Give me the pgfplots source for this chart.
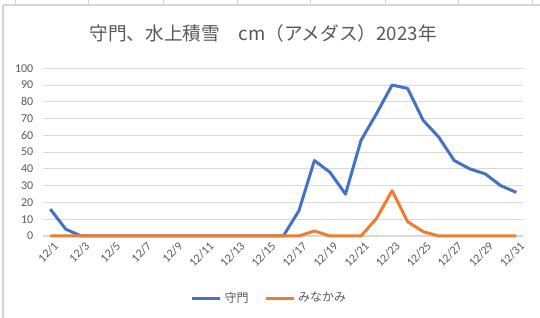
\documentclass[border=0pt]{standalone}
\usepackage{fontspec}
\setmainfont{Carlito}
\newfontfamily\jp{Noto Sans CJK JP}
\usepackage{pgfplots}
\pgfplotsset{compat=1.18}
\definecolor{exblue}{HTML}{4472C4}
\definecolor{exorange}{HTML}{ED7D31}
\definecolor{txtgray}{HTML}{595959}
\definecolor{gridgray}{HTML}{D9D9D9}
\definecolor{cellgray}{HTML}{D4D4D4}
\begin{document}
\begin{tikzpicture}[x=0.75pt,y=0.75pt]
\fill[white] (0,0) rectangle (540,318);
\path[use as bounding box] (0,0) rectangle (540,318);
% spreadsheet cell lines above chart
\foreach \xx in {15,88,163,237,310,385,458,532}{\draw[cellgray,line width=0.75pt] (\xx,318) -- (\xx,313);}
\draw[cellgray,line width=1.2pt] (3,313) -- (540,313);
\draw[cellgray,line width=1.2pt] (3,313) -- (3,0);
\node[font=\jp\fontsize{14}{16}\selectfont, text=txtgray] at (263,285) {守門、水上積雪　cm（アメダス）2023年};
\begin{axis}[
  at={(32.5pt,61.5pt)}, anchor=south west,
  scale only axis, width=360pt, height=125.8pt,
  xmin=0.55, xmax=31.45, ymin=0, ymax=100,
  axis line style={draw=none},
  ytick={0,10,...,100},
  xtick={1,3,...,31},
  xticklabels={12/1,12/3,12/5,12/7,12/9,12/11,12/13,12/15,12/17,12/19,12/21,12/23,12/25,12/27,12/29,12/31},
  major tick length=0pt,
  ymajorgrids, grid style={gridgray, line width=0.75pt},
  tick label style={font=\fontsize{9}{10}\selectfont, text=txtgray},
  /pgf/number format/assume math mode=true,
  xticklabel style={rotate=45, anchor=north east, inner sep=1pt, yshift=-3pt},
  yticklabel style={xshift=-4pt},
  legend style={at={(0.472,-0.37)}, anchor=center, draw=none, fill=none, legend columns=2,
    font=\jp\fontsize{9}{10}\selectfont, text=txtgray,
    /tikz/every even column/.append style={column sep=10pt}},
  legend image code/.code={\draw[#1] (0pt,0pt) -- (21pt,0pt);},
  clip=false,
]
\draw[gridgray, line width=0.9pt] (axis cs:0.55,0) -- (axis cs:31.45,0);
\addplot[exblue, line width=2.25pt, line join=round] coordinates {
(1,16)(2,4)(3,0)(4,0)(5,0)(6,0)(7,0)(8,0)(9,0)(10,0)(11,0)(12,0)(13,0)(14,0)(15,0)(16,0)
(17,15)(18,45)(19,38)(20,25)(21,57)(22,73)(23,90)(24,88)(25,69)(26,59)(27,45)(28,40)(29,37)(30,30)(31,26)};
\addlegendentry{守門}
\addplot[exorange, line width=2.25pt, line join=round] coordinates {
(1,0)(2,0)(3,0)(4,0)(5,0)(6,0)(7,0)(8,0)(9,0)(10,0)(11,0)(12,0)(13,0)(14,0)(15,0)(16,0)
(17,0)(18,3)(19,0)(20,0)(21,0)(22,10.5)(23,27)(24,8.5)(25,2.6)(26,0)(27,0)(28,0)(29,0)(30,0)(31,0)};
\addlegendentry{みなかみ}
\end{axis}
\end{tikzpicture}
\end{document}
